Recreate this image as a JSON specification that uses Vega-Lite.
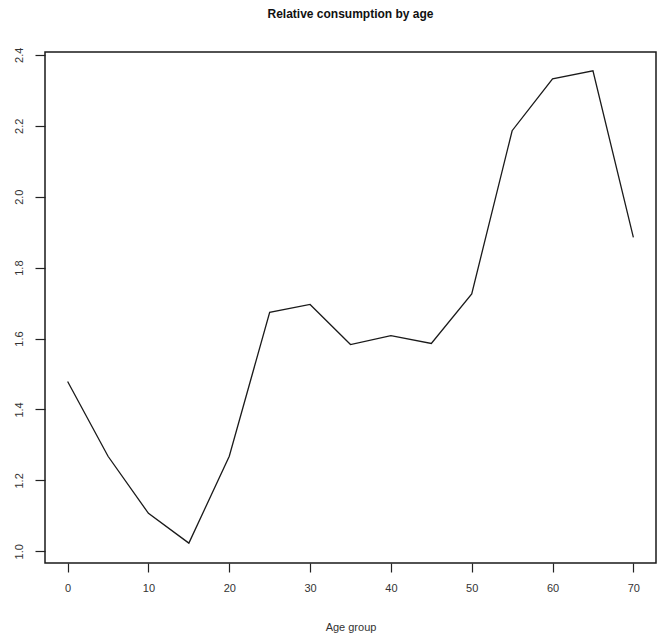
{
  "$schema": "https://vega.github.io/schema/vega-lite/v6.json",
  "width": 611,
  "height": 511,
  "autosize": {"type": "none"},
  "padding": {"left": 45, "top": 52, "right": 1, "bottom": 81},
  "background": "white",
  "title": {
    "text": "Relative consumption by age",
    "font": "Liberation Sans",
    "fontSize": 12,
    "fontWeight": "bold",
    "color": "#111",
    "anchor": "middle",
    "baseline": "bottom",
    "offset": 14
  },
  "data": {
    "values": [
      {"age": 0, "rel": 1.479},
      {"age": 5, "rel": 1.268},
      {"age": 10, "rel": 1.107},
      {"age": 15, "rel": 1.023},
      {"age": 20, "rel": 1.268},
      {"age": 25, "rel": 1.674},
      {"age": 30, "rel": 1.696},
      {"age": 35, "rel": 1.583},
      {"age": 40, "rel": 1.608},
      {"age": 45, "rel": 1.586},
      {"age": 50, "rel": 1.726},
      {"age": 55, "rel": 2.186},
      {"age": 60, "rel": 2.332},
      {"age": 65, "rel": 2.355},
      {"age": 70, "rel": 1.885}
    ]
  },
  "mark": {"type": "line", "color": "#1a1a1a", "strokeWidth": 1.3},
  "encoding": {
    "x": {
      "field": "age",
      "type": "quantitative",
      "scale": {"domain": [-2.8, 72.8], "nice": false, "zero": false},
      "axis": {
        "title": "Age group",
        "values": [0, 10, 20, 30, 40, 50, 60, 70],
        "grid": false,
        "domain": false,
        "tickSize": 9,
        "tickColor": "#222",
        "tickWidth": 1.2,
        "labelPadding": 10,
        "labelFont": "Liberation Sans",
        "labelFontSize": 11,
        "labelColor": "#333",
        "titleFont": "Liberation Sans",
        "titleFontSize": 11,
        "titleFontWeight": "normal",
        "titleColor": "#333",
        "titlePadding": 28
      }
    },
    "y": {
      "field": "rel",
      "type": "quantitative",
      "scale": {"domain": [0.967, 2.408], "nice": false, "zero": false},
      "axis": {
        "title": null,
        "values": [1.0, 1.2, 1.4, 1.6, 1.8, 2.0, 2.2, 2.4],
        "format": ".1f",
        "grid": false,
        "domain": false,
        "tickSize": 10,
        "tickColor": "#222",
        "tickWidth": 1.2,
        "labelAngle": -90,
        "labelAlign": "center",
        "labelBaseline": "bottom",
        "labelPadding": 11,
        "labelFont": "Liberation Sans",
        "labelFontSize": 11,
        "labelColor": "#333"
      }
    }
  },
  "config": {
    "view": {"stroke": "#1a1a1a", "strokeWidth": 1.5}
  }
}
